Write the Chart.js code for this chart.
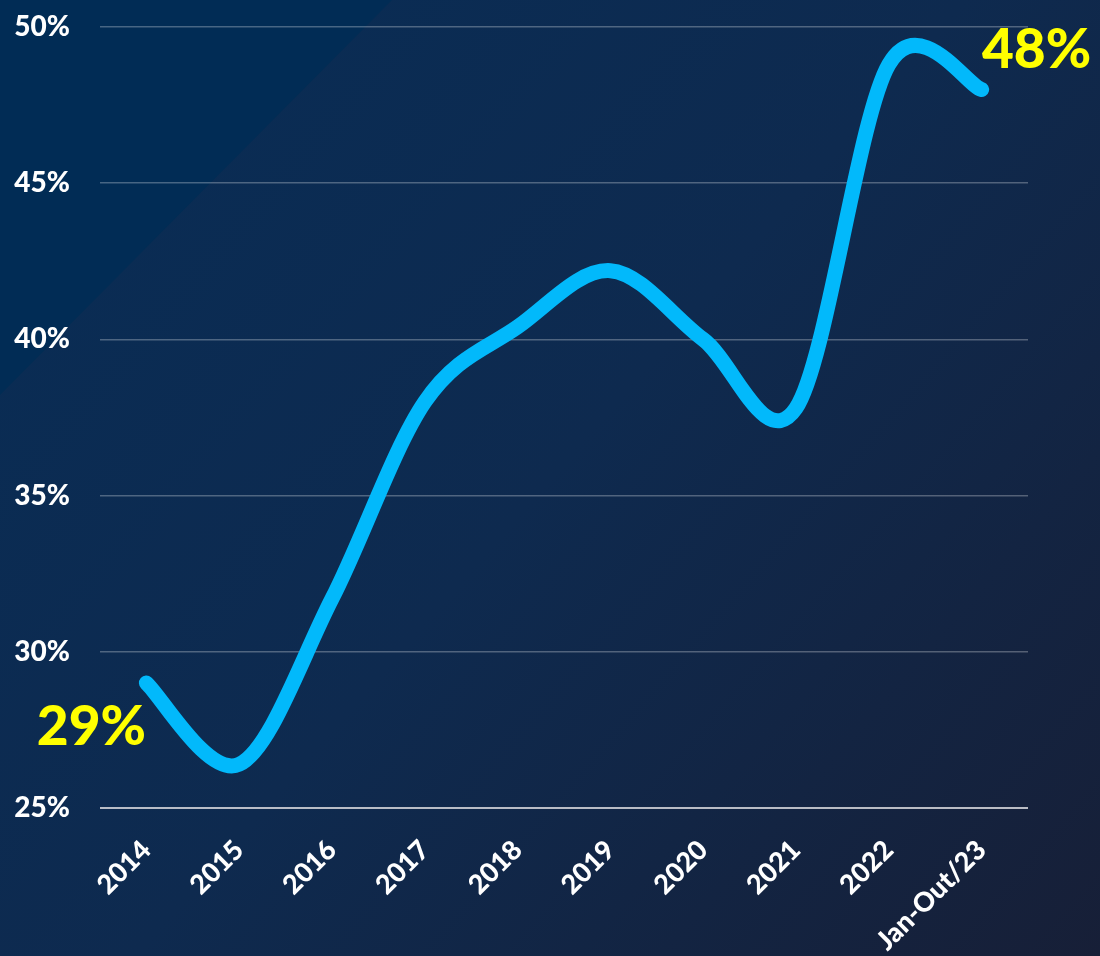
<!DOCTYPE html>
<html>
<head>
<meta charset="utf-8">
<script src="https://cdn.jsdelivr.net/npm/chart.js@4/dist/chart.umd.min.js"></script>
<style>
html,body{margin:0;padding:0;background:#0c2a50;}
#wrap{width:1100px;height:956px;}
</style>
</head>
<body>
<div id="wrap"><canvas id="c" width="1100" height="956"></canvas></div>
<script>
const categories = ['2014','2015','2016','2017','2018','2019','2020','2021','2022','Jan-Out/23'];
const shareValues = [29, 26.4, 31.7, 38, 40.4, 42.2, 40, 37.8, 48.8, 48];
const yTicks = [25, 30, 35, 40, 45, 50];
const endLabels = ['29%', '48%'];

const bgPlugin = {
  id: 'bg',
  beforeDraw(chart) {
    const ctx = chart.ctx, w = chart.width, h = chart.height;
    ctx.save();
    const g = ctx.createLinearGradient(0, 0, w, h);
    g.addColorStop(0, '#082d56');
    g.addColorStop(0.5, '#0e2a4f');
    g.addColorStop(1, '#171f37');
    ctx.fillStyle = g;
    ctx.fillRect(0, 0, w, h);
    ctx.beginPath();
    ctx.moveTo(0, 0);
    ctx.lineTo(392, 0);
    ctx.lineTo(0, 395);
    ctx.closePath();
    ctx.fillStyle = '#012c55';
    ctx.fill();
    ctx.restore();
  }
};

// Uniform Catmull-Rom smoothing (like office "smoothed line") applied to the points
// that Chart.js has placed through its own scales.
const smoothPlugin = {
  id: 'uniformSmooth',
  beforeDatasetDraw(chart, args) {
    const line = args.meta.dataset;
    if (!line) return;
    line.updateControlPoints(chart.chartArea, 'x');
    const pts = args.meta.data;
    const k = 1 / 6;
    for (let i = 0; i < pts.length; i++) {
      const p = pts[i];
      const prev = pts[i - 1] || p;
      const next = pts[i + 1] || p;
      const dx = next.x - prev.x, dy = next.y - prev.y;
      p.cp1x = p.x - dx * k; p.cp1y = p.y - dy * k;
      p.cp2x = p.x + dx * k; p.cp2y = p.y + dy * k;
    }
  }
};

const labelPlugin = {
  id: 'endLabels',
  afterDatasetsDraw(chart) {
    const meta = chart.getDatasetMeta(0);
    const ctx = chart.ctx;
    ctx.save();
    ctx.fillStyle = '#ffff00';
    ctx.font = '900 55px Lato';
    ctx.textAlign = 'center';
    ctx.textBaseline = 'middle';
    const p0 = meta.data[0];
    ctx.fillText(endLabels[0], p0.x - 55, p0.y + 44);
    const pN = meta.data[meta.data.length - 1];
    ctx.fillText(endLabels[1], pN.x + 55, pN.y - 39);
    ctx.restore();
  }
};

new Chart(document.getElementById('c'), {
  type: 'line',
  data: {
    labels: categories,
    datasets: [{
      data: shareValues,
      borderColor: '#02b9fb',
      borderWidth: 15,
      borderCapStyle: 'round',
      borderJoinStyle: 'round',
      pointRadius: 0,
      tension: 0.4,
      fill: false,
      clip: false
    }]
  },
  options: {
    responsive: false,
    animation: false,
    devicePixelRatio: 1,
    layout: { padding: { top: 27, right: 72, left: 0, bottom: 0 } },
    plugins: { legend: { display: false }, tooltip: { enabled: false } },
    scales: {
      x: {
        offset: true,
        grid: { display: false, drawTicks: false },
        border: { display: false },
        ticks: {
          color: '#ffffff',
          font: { family: 'Lato', weight: '900', size: 27 },
          maxRotation: 45,
          minRotation: 45,
          padding: 26,
          autoSkip: false
        },
        afterFit(scale) { scale.height = 148; scale.paddingLeft = 0; scale.paddingRight = 0; }
      },
      y: {
        min: 25,
        max: 50,
        afterBuildTicks(scale) { scale.ticks = yTicks.map(v => ({ value: v })); },
        grid: {
          drawTicks: false,
          color: (c) => c.tick && c.tick.value === 25 ? 'rgba(215,215,220,0.85)' : 'rgba(255,255,255,0.28)',
          lineWidth: (c) => c.tick && c.tick.value === 25 ? 2 : 1.5
        },
        border: { display: false },
        ticks: {
          color: '#ffffff',
          font: { family: 'Lato', weight: '900', size: 28 },
          padding: 30,
          callback: (v) => v + '%'
        },
        afterFit(scale) { scale.width = 100; scale.paddingTop = 0; scale.paddingBottom = 0; }
      }
    }
  },
  plugins: [bgPlugin, smoothPlugin, labelPlugin]
});
</script>
</body>
</html>
